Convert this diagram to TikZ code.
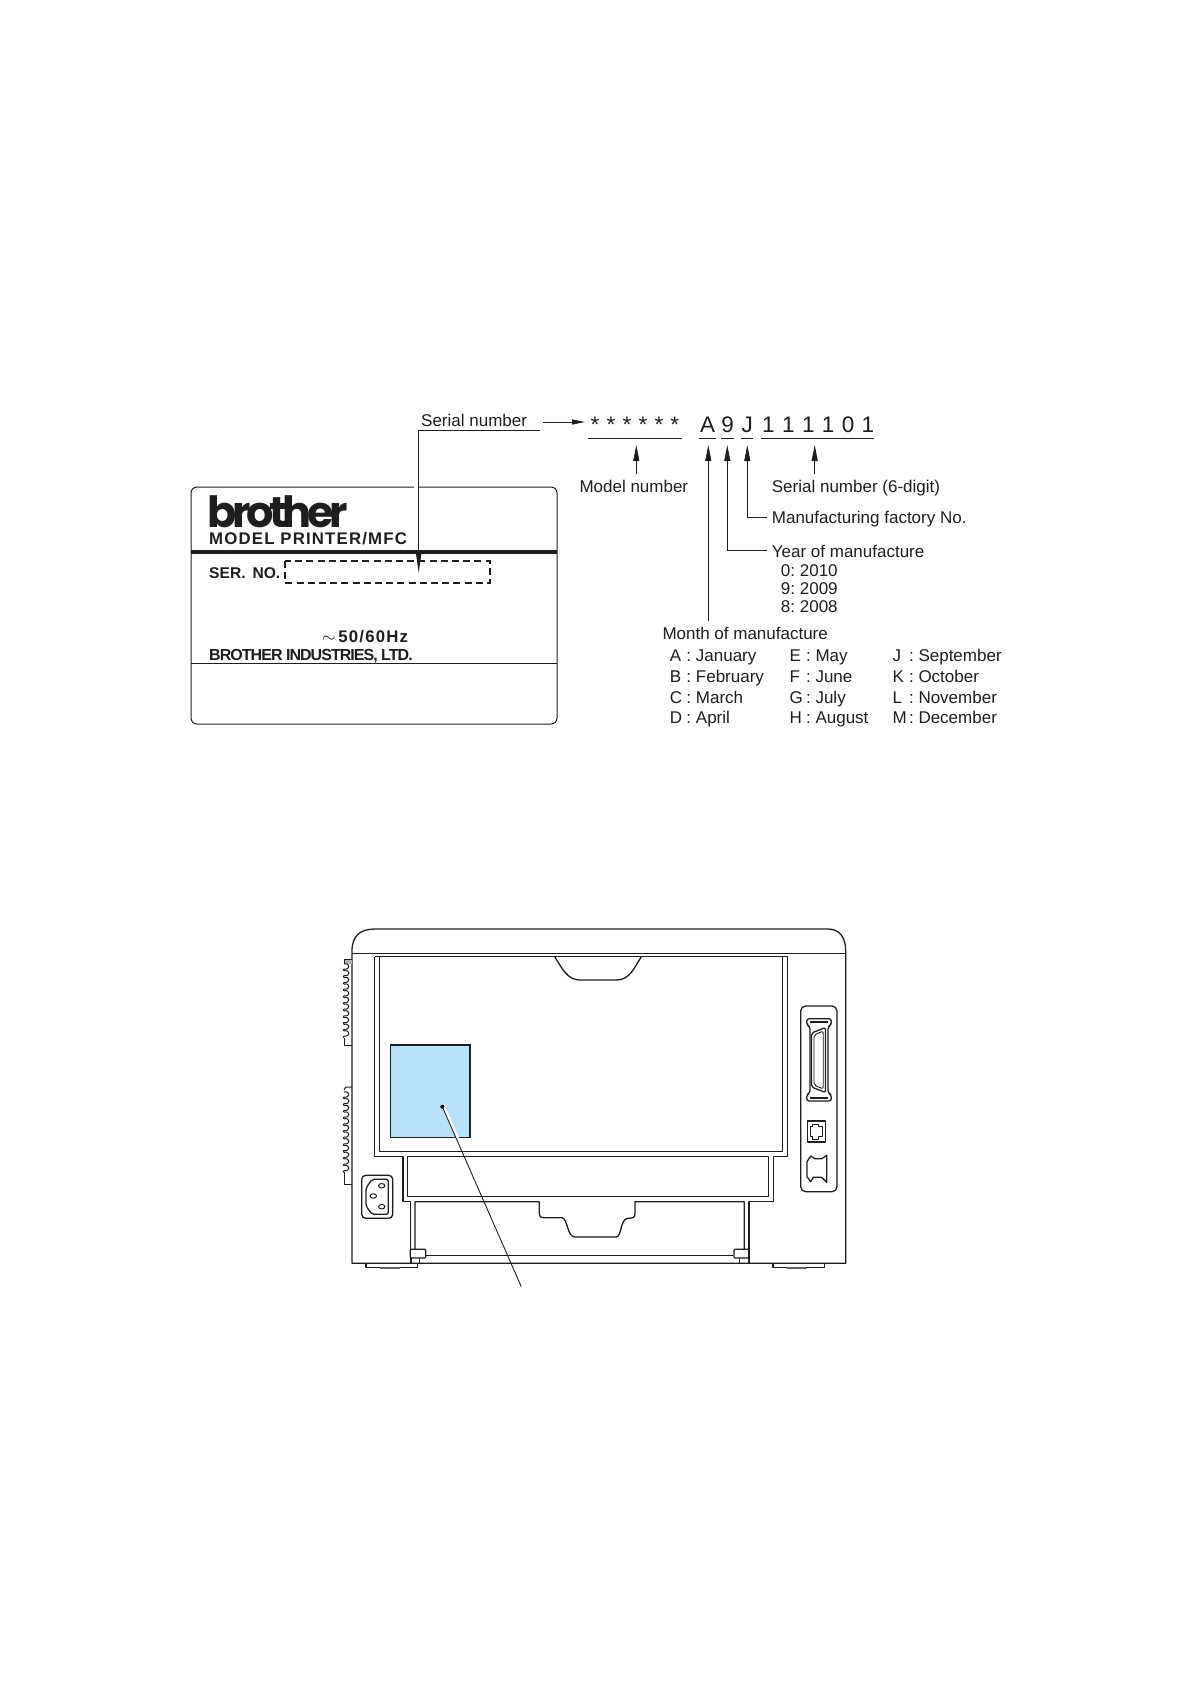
\documentclass[tikz,border=0pt]{standalone}
\usepackage{fontspec}
\setmainfont{Liberation Sans}
\newfontfamily\logoface[LetterSpace=-10]{Poppins}
\newfontfamily\wideface[LetterSpace=7]{Liberation Sans}
\newfontfamily\tightface[LetterSpace=-6]{Liberation Sans}
\usetikzlibrary{arrows.meta}
\definecolor{labelblue}{RGB}{184, 226, 250}
\definecolor{inkdark}{RGB}{30, 30, 30}
\newcommand{\monthentry}[2]{\makebox[21.3pt][l]{#1\hfill:} #2}
\tikzset{
  labeltext/.style={anchor=base west, inner sep=0pt, text=inkdark, font=\fontsize{17}{20}\selectfont},
  codetext/.style={anchor=base, inner sep=0pt, text=inkdark, font=\fontsize{22.5}{26}\selectfont},
  platetext/.style={anchor=base west, inner sep=0pt, text=inkdark},
  thinline/.style={draw=inkdark, line width=0.9pt},
  leader/.style={thinline, -{Triangle[length=16pt,width=6pt]}},
  body/.style={draw=inkdark, line width=1.3pt, line join=round},
}
\begin{document}
\begin{tikzpicture}[x=1pt,y=-1pt]
    \useasboundingbox (0,0) rectangle (1190,1684);
    \fill[white] (0,0) rectangle (1190,1684);

    % rating plate
    \draw[body, line width=1pt, rounded corners=6pt] (191,487) rectangle (557,724);
    \draw[draw=inkdark, line width=3.4pt] (191,552) -- (557,552);
    \draw[draw=inkdark, line width=1pt] (191,663) -- (557,663);
    \draw[draw=inkdark, line width=2.4pt, dash pattern=on 7pt off 4.2pt] (285,561) rectangle (490,583);
    \draw[white, line width=3pt] (414,487) -- (417.5,487);
    \node[anchor=base west, inner sep=0pt, text=inkdark, font={\logoface\bfseries\fontsize{43}{43}\selectfont}] (logo) at (207,527) {brother};
    \node[platetext, font={\wideface\bfseries\fontsize{16.8}{20}\selectfont}] (model) at (209,544) {MODEL PRINTER/MFC};
    \node[platetext, font={\bfseries\fontsize{15.6}{20}\selectfont}] (serno) at (209,578.3) {SER.\ \,NO.};
    \node[platetext, font={\wideface\bfseries\fontsize{16.8}{20}\selectfont}] (hertz) at (322,642.3) {$\sim$\,50/60Hz};
    \node[platetext, font={\tightface\bfseries\fontsize{16}{20}\selectfont}] (maker) at (209,660.7) {BROTHER INDUSTRIES, LTD.};

    % code line
    \node[labeltext] (serialnum) at (421,426) {Serial number};
    \node[codetext, anchor=base west] (stars) at (590.5,432) {\spaceskip=7.2pt * * * * * *};
    \node[codetext] (charA) at (707.7,432) {A};
    \node[codetext] (charnine) at (727.7,432) {9};
    \node[codetext] (charJ) at (747.3,432) {J};
    \node[codetext, anchor=base west] (digits) at (762,432) {\spaceskip=7.4pt 1 1 1 1 0 1};
    \draw[thinline] (588,438) -- (682,438);
    \draw[thinline] (699.3,438) -- (716,438);
    \draw[thinline] (721,438) -- (734,438);
    \draw[thinline] (741,438) -- (753,438);
    \draw[thinline] (761,438) -- (873.7,438);

    \node[labeltext] (modelnum) at (579.3,492) {Model number};
    \node[labeltext] (serialsix) at (771.7,492) {Serial number (6-digit)};
    \node[labeltext] (factory) at (771.7,523.7) {Manufacturing factory No.};
    \node[labeltext] (year) at (771.7,557) {Year of manufacture};
    \node[labeltext] (yearzero) at (780.7,576.7) {\spaceskip=3.2pt 0: 2010};
    \node[labeltext] (yearnine) at (780.7,594.3) {\spaceskip=3.2pt 9: 2009};
    \node[labeltext] (yeareight) at (780.7,612.3) {\spaceskip=3.2pt 8: 2008};
    \node[labeltext] (month) at (662.3,639) {Month of manufacture};

    \foreach \xpos/\ypos/\letr/\mname in {
        669.7/661.7/A/January, 669.7/682.3/B/February, 669.7/703.3/C/March, 669.7/723.3/D/April,
        789.3/661.7/E/May, 789.3/682.3/F/June, 789.3/703.3/G/July, 789.3/723.3/H/August,
        892.3/661.7/J/September, 892.3/682.3/K/October, 892.3/703.3/L/November, 892.3/723.3/M/December}
        \node[labeltext] (\mname) at (\xpos,\ypos) {\monthentry{\letr}{\mname}};

    \coordinate (serialend) at (540,430);
    \coordinate (serialbend) at (418.7,430);
    \coordinate (dashtip) at (418.7,573);
    \coordinate (arrowstart) at (543,422);
    \coordinate (arrowtip) at (585,422);
    \coordinate (modelfoot) at (636.3,474);
    \coordinate (modeltip) at (636.3,445);
    \coordinate (sixfoot) at (814.7,474);
    \coordinate (sixtip) at (814.7,445);
    \coordinate (monthfoot) at (708.3,620.7);
    \coordinate (monthtip) at (708.3,445);
    \coordinate (yearend) at (767.3,550.3);
    \coordinate (yearbend) at (727.3,550.3);
    \coordinate (yeartip) at (727.3,445);
    \coordinate (factoryend) at (767.3,517.7);
    \coordinate (factorybend) at (747.3,517.7);
    \coordinate (factorytip) at (747.3,445);
    \draw[thinline, -{Triangle[length=19pt,width=5pt]}] (serialend) -- (serialbend) -- (dashtip);
    \draw[thinline, -{Triangle[length=13pt,width=5pt]}] (arrowstart) -- (arrowtip);
    \draw[leader] (modelfoot) -- (modeltip);
    \draw[leader] (sixfoot) -- (sixtip);
    \draw[leader] (monthfoot) -- (monthtip);
    \draw[leader] (yearend) -- (yearbend) -- (yeartip);
    \draw[leader] (factoryend) -- (factorybend) -- (factorytip);

    % printer body
    \draw[body] (352,1263.3) -- (352,951) .. controls (352,936) and (360,929) .. (375,929) -- (828,929) .. controls (840,929) and (845.7,938) .. (845.7,951) -- (845.7,1263.3) -- cycle;
    \draw[body] (352,953.3) -- (845.7,953.3);
    \draw[body] (374.7,956.7) -- (374.7,1156.7) -- (403,1156.7) -- (403,1201.7) -- (410.3,1201.7) -- (410.3,1263.3);
    \draw[body] (374.7,956.7) -- (787.7,956.7) -- (787.7,1156.7) -- (773.7,1156.7) -- (773.7,1201.7) -- (749,1201.7) -- (749,1263.3);
    \draw[body] (379.3,956.7) -- (379.3,1151.3) -- (782.7,1151.3) -- (782.7,956.7);
    \draw[body] (554.7,956.7) .. controls (562,968) and (567,980) .. (580,980) -- (616,980) .. controls (630,980) and (634,968) .. (641.3,956.7);
    \draw[body] (407.3,1156.7) rectangle (768.3,1196.7);
    \draw[body] (415,1249.3) -- (415,1201.7) -- (539.3,1201.7) -- (539.3,1213) .. controls (539.3,1217) and (541,1217.7) .. (545,1217.7) -- (562,1217.7) .. controls (568,1219) and (567,1237) .. (575,1237) -- (616,1237) .. controls (622,1237) and (620,1218.3) .. (628,1218.3) .. controls (634,1218.3) and (635,1217) .. (635,1213) -- (635,1201.7) -- (744.3,1201.7) -- (744.3,1249.3);
    \draw[body] (425.7,1255.7) -- (733.3,1255.7);
    \draw[body, rounded corners=1pt] (410.3,1249.3) rectangle (425.7,1258);
    \draw[body, rounded corners=1pt] (734,1249.3) rectangle (749,1258);
    \draw[body] (411.7,1258) -- (411.7,1263.3);
    \draw[body] (419.3,1258) -- (419.3,1263.3);
    \draw[body] (739.3,1258) -- (739.3,1263.3);
    \draw[body] (748.3,1258) -- (748.3,1263.3);
    \draw[body] (366,1263.3) -- (366,1267.3) -- (417.3,1267.3) -- (417.3,1263.3);
    \fill[inkdark!70] (380,1267.3) rectangle (400,1269.3);
    \draw[body] (773,1263.3) -- (773,1267.3) -- (824.7,1267.3) -- (824.7,1263.3);
    \fill[inkdark!70] (786.7,1267.3) rectangle (807.3,1269.3);

    % vents on the left side
    \fill[inkdark!35] (344,959.3) rectangle (352,963.5);
    \draw[body, line width=1pt] (352,959.3) -- (344,959.3) -- (344,964);
    \foreach \ypos in {964,970.7,...,1032}
        \draw[body, line width=1pt] (344,\ypos) .. controls (350.5,\ypos-1.5) and (350.5,\ypos+6) .. (344,\ypos+5) .. controls (343,\ypos+5.6) and (343,\ypos+6.2) .. (344,\ypos+6.7);
    \draw[body, line width=1pt] (344,1037.7) -- (344,1045.3) -- (352,1045.3);
    \draw[body, line width=1pt] (352,1087) -- (346,1087) -- (344,1090);
    \foreach \ypos in {1092,1098.7,...,1168}
        \draw[body, line width=1pt] (344,\ypos) .. controls (350.5,\ypos-1.5) and (350.5,\ypos+6) .. (344,\ypos+5) .. controls (343,\ypos+5.6) and (343,\ypos+6.2) .. (344,\ypos+6.7);
    \draw[body, line width=1pt] (344,1172) -- (344,1184) -- (352,1184);

    % power inlet
    \draw[body, rounded corners=4pt] (361.7,1175.3) rectangle (392.7,1218.3);
    \draw[body, rounded corners=2pt] (372,1179.3) -- (388.3,1179.3) -- (388.3,1214.3) -- (372,1214.3) -- (366,1206) -- (366,1188) -- cycle;
    \draw[body, line width=1pt] (381.7,1185.7) circle [x radius=3.2pt, y radius=2.2pt];
    \draw[body, line width=1pt] (373.3,1196) circle [x radius=3.2pt, y radius=2.2pt];
    \draw[body, line width=1pt] (381.7,1206.7) circle [x radius=3.2pt, y radius=2.2pt];

    % connector panel
    \draw[body, rounded corners=5pt] (800.7,1006) rectangle (837,1191.7);
    \draw[body, rounded corners=2.5pt] (810,1026.5) -- (806.7,1025) -- (806.7,1018.7) -- (831.3,1018.7) -- (831.3,1025) -- (828,1026.5) -- (828,1093) -- (831.3,1094.5) -- (831.3,1101) -- (806.7,1101) -- (806.7,1094.5) -- (810,1093) -- cycle;
    \draw[draw=inkdark, line width=2pt] (810,1021.5) -- (828,1021.5);
    \draw[draw=inkdark, line width=2pt] (810,1098.3) -- (828,1098.3);
    \draw[body, rounded corners=2pt] (811.5,1033) -- (825.5,1027.5) -- (825.5,1092.5) -- (811.5,1087) -- cycle;
    \draw[body, line width=0.9pt, rounded corners=2pt] (814,1035) -- (823.2,1031) -- (823.2,1089) -- (814,1085) -- cycle;
    \draw[body] (807.3,1121) rectangle (825.3,1142);
    \draw[body, line width=1pt] (812,1124) -- (818,1124) -- (818,1126.5) -- (822.5,1126.5) -- (822.5,1136.5) -- (818,1136.5) -- (818,1139) -- (812,1139) -- (812,1136.5) -- (810,1136.5) -- (810,1126.5) -- (812,1126.5) -- cycle;
    \draw[body] (807,1161.7) -- (810.7,1156) -- (815,1158.7) -- (821.7,1158.7) -- (826.7,1155.3) -- (826.7,1182.3) -- (821.7,1177.3) -- (813.3,1177.3) -- (810.7,1181.7) -- (807,1176.7) -- cycle;

    % label on the printer
    \draw[draw=inkdark, line width=1.5pt, fill=labelblue] (390.7,1045) rectangle (470,1137.3);
    \coordinate (labeldot) at (442.3,1106.7);
    \coordinate (labelfoot) at (521.3,1286.7);
    \begin{scope}
        \clip (390.7,1045) rectangle (470,1137.3);
        \draw[white, line width=3pt] ([xshift=1.4pt]labeldot) -- ([xshift=1.4pt]labelfoot);
    \end{scope}
    \draw[thinline] (labeldot) -- (labelfoot);
    \fill[black] (labeldot) circle (2pt);
\end{tikzpicture}
\end{document}
